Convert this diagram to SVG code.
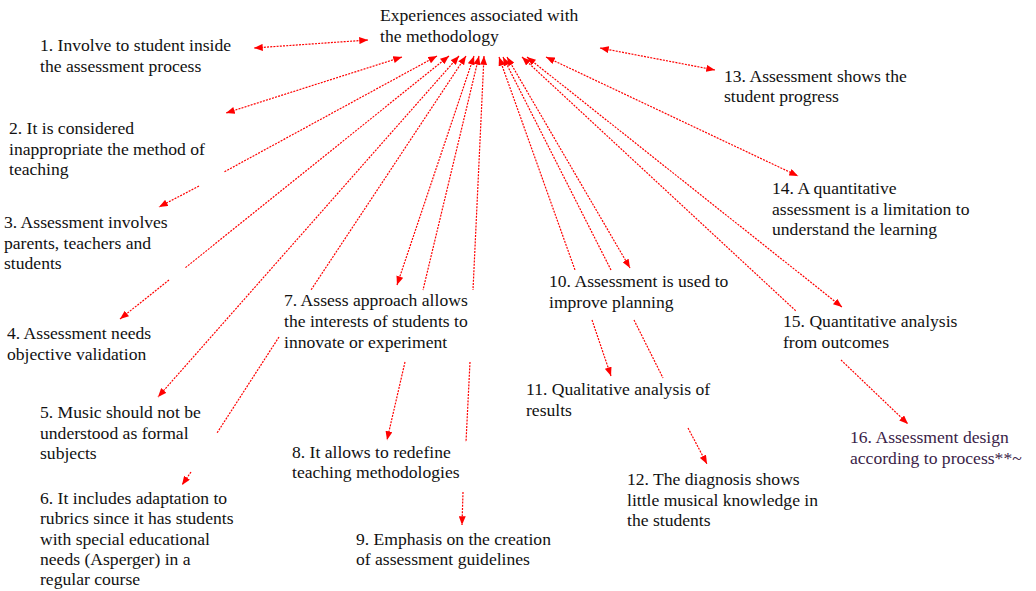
<svg xmlns="http://www.w3.org/2000/svg" width="1036" height="591" viewBox="0 0 1036 591">
<defs>
<marker id="ah" viewBox="0 0 10 8" refX="10" refY="4" markerWidth="9" markerHeight="7" markerUnits="userSpaceOnUse" orient="auto-start-reverse">
<path d="M0,0 L10,4 L0,8 z" fill="#ff0000"/>
</marker>
<style>
.c{fill:none;stroke:#ff0000;stroke-width:1.2;stroke-dasharray:2 1.2}
.s{marker-start:url(#ah)}
.e{marker-end:url(#ah)}
.t{font-family:'Liberation Serif','Times New Roman',serif;font-size:17.6px;fill:#111111}
.p{fill:#3a1d48}
</style>
</defs>
<rect width="1036" height="591" fill="#ffffff"/>
<g id="connectors">
<path id="c1" class="c s e" d="M368,40 L254,48"/>
<path id="c2" class="c s e" d="M402,57 L226,113"/>
<path class="c s" d="M437,56 L224,172"/>
<path class="c e" d="M199,186 L159,207"/>
<path class="c s" d="M449,56 L185,268"/>
<path class="c e" d="M169,280 L120,319"/>
<path id="c5" class="c s e" d="M459,56 L158,397"/>
<path class="c s" d="M466,56 L311,290"/>
<path class="c" d="M279,337 L217,433"/>
<path class="c e" d="M191,472 L182,485"/>
<path id="c7" class="c s e" d="M474,56 L397,285"/>
<path class="c s" d="M479,56 L423,290"/>
<path class="c e" d="M405,362 L387,440"/>
<path class="c s" d="M484,56 L473,290"/>
<path class="c" d="M470,362 L466,442"/>
<path class="c e" d="M463,492 L462,525"/>
<path id="c10" class="c s e" d="M507,57 L630,268"/>
<path class="c s" d="M499,57 L575,270"/>
<path class="c e" d="M592,320 L611,376"/>
<path class="c s" d="M503,57 L611,270"/>
<path class="c" d="M634,320 L663,378"/>
<path class="c e" d="M688,428 L707,464"/>
<path id="c13" class="c s e" d="M600,48 L715,70"/>
<path id="c14" class="c s e" d="M546,57 L798,176"/>
<path id="c15" class="c s e" d="M527,57 L842,307"/>
<path class="c s" d="M522,57 L796,311"/>
<path class="c e" d="M841,360 L908,424"/>
</g>
<g id="nodes">
<g id="center"><text class="t" x="380" y="21">Experiences associated with</text><text class="t" x="380" y="42">the methodology</text></g>
<g id="n1"><text class="t" x="40" y="51">1. Involve to student inside</text><text class="t" x="40" y="72">the assessment process</text></g>
<g id="n2"><text class="t" x="9" y="134">2. It is considered</text><text class="t" x="9" y="155">inappropriate the method of</text><text class="t" x="9" y="175">teaching</text></g>
<g id="n3"><text class="t" x="4" y="228">3. Assessment involves</text><text class="t" x="4" y="249">parents, teachers and</text><text class="t" x="4" y="269">students</text></g>
<g id="n4"><text class="t" x="7" y="339">4. Assessment needs</text><text class="t" x="7" y="360">objective validation</text></g>
<g id="n5"><text class="t" x="40" y="418">5. Music should not be</text><text class="t" x="40" y="439">understood as formal</text><text class="t" x="40" y="459">subjects</text></g>
<g id="n6"><text class="t" x="40" y="504">6. It includes adaptation to</text><text class="t" x="40" y="524">rubrics since it has students</text><text class="t" x="40" y="545">with special educational</text><text class="t" x="40" y="565">needs (Asperger) in a</text><text class="t" x="40" y="585">regular course</text></g>
<g id="n7"><text class="t" x="284" y="306">7. Assess approach allows</text><text class="t" x="284" y="327">the interests of students to</text><text class="t" x="284" y="348">innovate or experiment</text></g>
<g id="n8"><text class="t" x="292" y="458">8. It allows to redefine</text><text class="t" x="292" y="478">teaching methodologies</text></g>
<g id="n9"><text class="t" x="356" y="545">9. Emphasis on the creation</text><text class="t" x="356" y="565">of assessment guidelines</text></g>
<g id="n10"><text class="t" x="549" y="287">10. Assessment is used to</text><text class="t" x="549" y="308">improve planning</text></g>
<g id="n11"><text class="t" x="526" y="395">11. Qualitative analysis of</text><text class="t" x="526" y="416">results</text></g>
<g id="n12"><text class="t" x="627" y="485">12. The diagnosis shows</text><text class="t" x="627" y="506">little musical knowledge in</text><text class="t" x="627" y="526">the students</text></g>
<g id="n13"><text class="t" x="724" y="82">13. Assessment shows the</text><text class="t" x="724" y="102">student progress</text></g>
<g id="n14"><text class="t" x="772" y="194">14. A quantitative</text><text class="t" x="772" y="215">assessment is a limitation to</text><text class="t" x="772" y="235">understand the learning</text></g>
<g id="n15"><text class="t" x="783" y="327">15. Quantitative analysis</text><text class="t" x="783" y="348">from outcomes</text></g>
<g id="n16"><text class="t p" x="850" y="443">16. Assessment design</text><text class="t p" x="850" y="464">according to process**~</text></g>
</g>
</svg>
